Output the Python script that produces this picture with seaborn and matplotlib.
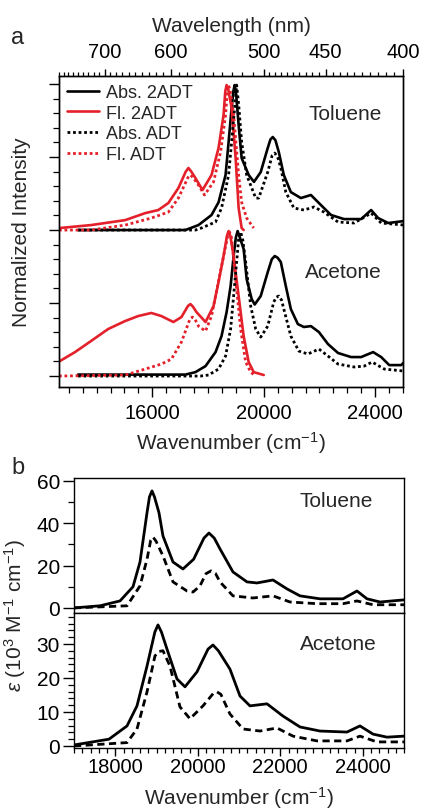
import matplotlib
matplotlib.use("Agg")
import matplotlib.pyplot as plt
from matplotlib.ticker import MultipleLocator, FixedLocator, NullFormatter
from matplotlib.lines import Line2D
import pandas as pd
import seaborn as sns

# ---------------- Panel a : normalized spectra (wavenumber cm-1, normalized intensity) -------------
# Toluene
tol_abs2_x = [13333, 17189, 17657, 18126, 18378, 18630, 18739, 18847, 18910, 18955, 19010, 19099, 19207,
              19459, 19650, 19892, 20144, 20240, 20324, 20420, 20541, 20721, 20973, 21333, 21694, 22054,
              22415, 22883, 23496, 23856, 24108, 24469, 25045]
tol_abs2_y = [0.0, 0.0, 0.034, 0.103, 0.19, 0.377, 0.603, 0.836, 0.95, 0.993, 0.93, 0.719, 0.493,
              0.377, 0.33, 0.397, 0.562, 0.62, 0.637, 0.615, 0.534, 0.377, 0.26, 0.219, 0.24, 0.171,
              0.103, 0.075, 0.075, 0.137, 0.082, 0.048, 0.062]
tol_absA_x = [13333, 17549, 17766, 18270, 18486, 18739, 18847, 18955, 19027, 19100, 19207, 19387, 19712,
              19820, 20144, 20300, 20396, 20500, 20613, 20793, 21081, 21442, 21802, 22162, 22667, 23244,
              23856, 24217, 25045]
tol_absA_y = [0.0, 0.0, 0.014, 0.055, 0.151, 0.377, 0.603, 0.836, 0.993, 0.86, 0.603, 0.377, 0.219,
              0.219, 0.397, 0.51, 0.527, 0.50, 0.425, 0.26, 0.151, 0.137, 0.158, 0.123, 0.055, 0.048,
              0.116, 0.048, 0.034]
tol_fl2_x = [12684, 13801, 15027, 15747, 16216, 16576, 16937, 17200, 17297, 17400, 17549, 17802, 18126,
             18378, 18558, 18620, 18667, 18730, 18847, 18991, 19099, 19207, 19279]
tol_fl2_y = [0.014, 0.034, 0.068, 0.116, 0.137, 0.185, 0.288, 0.40, 0.425, 0.40, 0.356, 0.274, 0.377,
             0.562, 0.788, 0.95, 0.993, 0.96, 0.836, 0.493, 0.151, 0.014, 0.0]
tol_flA_x = [12648, 13801, 15027, 15964, 16576, 16937, 17280, 17369, 17460, 17657, 17874, 18198, 18450,
             18630, 18690, 18739, 18800, 18919, 19099, 19207, 19387, 19640]
tol_flA_y = [0.0, 0.0, 0.034, 0.082, 0.123, 0.219, 0.36, 0.377, 0.36, 0.308, 0.24, 0.329, 0.534,
             0.788, 0.95, 0.993, 0.95, 0.788, 0.377, 0.19, 0.082, 0.014]
# Acetone
ace_abs2_x = [13333, 17189, 17549, 17910, 18270, 18486, 18667, 18811, 18919, 19000, 19063, 19140, 19279,
              19387, 19568, 19676, 19892, 20144, 20290, 20396, 20500, 20613, 20793, 20973, 21225, 21442,
              21694, 21982, 22307, 22667, 23135, 23496, 23928, 24217, 24505, 24937, 25045]
ace_abs2_y = [0.01, 0.01, 0.027, 0.068, 0.164, 0.274, 0.438, 0.616, 0.822, 0.95, 0.993, 0.95, 0.87,
              0.664, 0.527, 0.49, 0.548, 0.712, 0.80, 0.822, 0.81, 0.781, 0.616, 0.459, 0.356, 0.336,
              0.342, 0.301, 0.219, 0.158, 0.13, 0.13, 0.164, 0.13, 0.075, 0.075, 0.096]
ace_absA_x = [13333, 17730, 18018, 18378, 18630, 18811, 18919, 19027, 19100, 19171, 19250, 19351, 19532,
              19712, 19892, 20144, 20360, 20450, 20541, 20640, 20721, 20973, 21261, 21586, 21982, 22307,
              22667, 23244, 23604, 23892, 24325, 25045]
ace_absA_y = [0.0, 0.0, 0.007, 0.048, 0.137, 0.322, 0.548, 0.781, 0.94, 0.986, 0.93, 0.781, 0.479,
              0.322, 0.267, 0.342, 0.507, 0.54, 0.548, 0.52, 0.459, 0.274, 0.171, 0.151, 0.185, 0.137,
              0.082, 0.062, 0.068, 0.096, 0.048, 0.034]
ace_fl2_x = [12684, 13225, 13801, 14414, 15027, 15495, 15964, 16324, 16757, 17045, 17280, 17369, 17460,
             17586, 17910, 18198, 18378, 18558, 18680, 18739, 18800, 18919, 19099, 19279, 19459, 19640,
             20000]
ace_fl2_y = [0.103, 0.164, 0.24, 0.322, 0.377, 0.411, 0.432, 0.411, 0.37, 0.404, 0.48, 0.493, 0.475,
             0.438, 0.37, 0.479, 0.644, 0.822, 0.96, 0.993, 0.96, 0.822, 0.548, 0.274, 0.096, 0.027,
             0.007]
ace_flA_x = [12648, 15027, 15747, 16324, 16685, 17045, 17350, 17441, 17530, 17657, 17910, 18126, 18342,
             18558, 18710, 18775, 18840, 18991, 19171, 19351, 19532, 19712]
ace_flA_y = [0.0, 0.007, 0.048, 0.082, 0.116, 0.233, 0.39, 0.404, 0.39, 0.342, 0.308, 0.411, 0.616,
             0.822, 0.96, 0.986, 0.95, 0.664, 0.322, 0.096, 0.027, 0.0]

legend_labels = ["Abs. 2ADT", "Fl. 2ADT", "Abs. ADT", "Fl. ADT"]
solvents = ["Toluene", "Acetone"]
wavelength_major = [700, 600, 500, 450, 400]

# ---------------- Panel b : molar absorptivity (10^3 M-1 cm-1) -------------
b_tol_2_x = [17000, 17630, 18115, 18430, 18600, 18770, 18830, 18891, 18950, 19060, 19157, 19400, 19642,
             19900, 20150, 20272, 20400, 20539, 20854, 21194, 21436, 21824, 22163, 22478, 22963, 23521,
             23860, 24103, 24418, 25000]
b_tol_2_y = [0.0, 1.0, 3.3, 10.0, 21.7, 45.0, 52.5, 55.3, 52.5, 45.0, 34.0, 21.7, 18.4,
             23.0, 33.0, 35.4, 33.0, 27.9, 17.0, 12.3, 11.8, 13.2, 9.0, 5.7, 4.3, 4.3,
             8.0, 4.3, 2.8, 3.8]
b_tol_A_x = [17000, 18285, 18600, 18770, 18860, 18915, 18990, 19157, 19400, 19739, 19885, 20054, 20200,
             20321, 20430, 20539, 20854, 21339, 21824, 22236, 22890, 23521, 23860, 24248, 25000]
b_tol_A_y = [0.0, 1.0, 10.4, 23.0, 32.0, 33.5, 31.5, 24.6, 12.3, 8.0, 7.5, 10.4, 16.2,
             17.5, 16.3, 12.3, 5.7, 4.7, 5.7, 2.8, 2.0, 2.0, 3.3, 1.5, 1.5]
b_ace_2_x = [17000, 17848, 18285, 18527, 18770, 18960, 19036, 19120, 19254, 19497, 19691, 19982, 20250,
             20369, 20500, 20781, 21024, 21266, 21678, 22066, 22478, 22963, 23618, 23933, 24248, 24587,
             25000]
b_ace_2_y = [0.3, 2.0, 5.9, 11.8, 23.5, 33.5, 35.6, 33.5, 28.5, 19.7, 17.4, 21.8, 28.5,
             29.7, 28.0, 22.6, 14.7, 11.8, 12.4, 8.8, 5.6, 4.4, 4.1, 5.9, 3.5, 2.6, 2.9]
b_ace_A_x = [17000, 18285, 18527, 18770, 18963, 19060, 19157, 19327, 19569, 19812, 20127, 20380, 20466,
             20560, 20781, 21097, 21509, 21921, 22309, 22890, 23618, 23933, 24345, 25000]
b_ace_A_y = [0.0, 1.0, 5.0, 15.9, 26.5, 27.8, 28.0, 23.5, 11.5, 8.0, 11.8, 15.5, 15.9,
             15.2, 9.4, 5.0, 4.4, 5.3, 2.9, 1.5, 1.5, 2.9, 1.2, 1.2]

# ---------------- style -------------
sns.set_theme(style="ticks")
plt.rcParams['font.family'] = ['Liberation Sans', 'DejaVu Sans']
plt.rcParams['mathtext.fontset'] = 'custom'
plt.rcParams['mathtext.rm'] = 'Liberation Sans'
plt.rcParams['mathtext.it'] = 'Liberation Sans:italic'
plt.rcParams['axes.linewidth'] = 1.0
plt.rcParams['xtick.color'] = 'black'
plt.rcParams['ytick.color'] = 'black'
plt.rcParams['axes.edgecolor'] = 'black'

RED = "#e4202a"
BLK = "black"
DOT = (0, (1, 1))
DASH = (0, (2.6, 1.6))
FS = 15
TFS = 14.5

fig = plt.figure(figsize=(4.24, 8.12), dpi=100)

# ---------------- Panel a -------------
ax = fig.add_axes([59/424, 1-388/812, 344/424, 311/812])
offset = {"Toluene": 1.0, "Acetone": 0.0}
curves = {
    "Toluene": [(tol_abs2_x, tol_abs2_y, BLK, '-'), (tol_fl2_x, tol_fl2_y, RED, '-'),
                (tol_absA_x, tol_absA_y, BLK, DOT), (tol_flA_x, tol_flA_y, RED, DOT)],
    "Acetone": [(ace_abs2_x, ace_abs2_y, BLK, '-'), (ace_fl2_x, ace_fl2_y, RED, '-'),
                (ace_absA_x, ace_absA_y, BLK, DOT), (ace_flA_x, ace_flA_y, RED, DOT)],
}
for solv in solvents:
    for xs, ys, c, ls in curves[solv]:
        df = pd.DataFrame({"wn": xs, "I": [v + offset[solv] for v in ys]})
        sns.lineplot(data=df, x="wn", y="I", ax=ax, color=c, linestyle=ls, lw=1.9 if ls == '-' else 2.0,
                     estimator=None, sort=False, errorbar=None)

ax.set_xlim(12650, 25000)
ax.set_ylim(-0.075, 2.055)
ax.xaxis.set_major_locator(FixedLocator([16000, 20000, 24000]))
ax.xaxis.set_minor_locator(MultipleLocator(500))
ax.yaxis.set_major_locator(MultipleLocator(0.5))
ax.yaxis.set_minor_locator(MultipleLocator(0.1))
ax.yaxis.set_major_formatter(NullFormatter())
ax.tick_params(axis='both', which='major', direction='out', length=7, width=1.0, labelsize=TFS)
ax.tick_params(axis='both', which='minor', direction='out', length=4, width=0.9)
ax.tick_params(axis='x', pad=4.5)
ax.set_xlabel("Wavenumber (cm$^{-1}$)", fontsize=FS, labelpad=5)
ax.set_ylabel("")

handles = [Line2D([0], [0], color=BLK, lw=1.9), Line2D([0], [0], color=RED, lw=1.9),
           Line2D([0], [0], color=BLK, lw=2.0, ls=DOT), Line2D([0], [0], color=RED, lw=2.0, ls=DOT)]
ax.legend(handles, legend_labels, loc='upper left', frameon=False, fontsize=13, handlelength=1.77,
          handletextpad=0.39, labelspacing=0.2, borderpad=0.0, borderaxespad=0.45)

ax.text(0.939, 0.881, solvents[0], transform=ax.transAxes, ha='right', va='center', fontsize=FS)
ax.text(0.939, 0.370, solvents[1], transform=ax.transAxes, ha='right', va='center', fontsize=FS)

# top wavelength axis
axt = ax.twiny()
axt.set_xlim(ax.get_xlim())
axt.xaxis.set_major_locator(FixedLocator([1e7 / w for w in wavelength_major]))
axt.set_xticklabels([str(w) for w in wavelength_major])
minor_nm = list(range(790, 500, -10)) + list(range(495, 400, -5))
axt.xaxis.set_minor_locator(FixedLocator([1e7 / w for w in minor_nm if w not in wavelength_major]))
axt.tick_params(axis='x', which='major', direction='out', length=5, width=1.0, labelsize=TFS, pad=5.5)
axt.tick_params(axis='x', which='minor', direction='out', length=3, width=0.9)
axt.set_xlabel("Wavelength (nm)", fontsize=FS, labelpad=8)

fig.text(22/424, 1-232/812, "Normalized Intensity", rotation=90, ha='center', va='center', fontsize=FS)
fig.text(18/424, 1-38/812, "a", ha='center', va='center', fontsize=17)
fig.text(18/424, 1-468/812, "b", ha='center', va='center', fontsize=17)

# ---------------- Panel b -------------
ax1 = fig.add_axes([74/424, 1-614/812, 330/424, 135/812])
ax2 = fig.add_axes([74/424, 1-748.7/812, 330/424, 134.7/812])

for a_, (x2, y2, xA, yA), lab in [(ax1, (b_tol_2_x, b_tol_2_y, b_tol_A_x, b_tol_A_y), solvents[0]),
                                  (ax2, (b_ace_2_x, b_ace_2_y, b_ace_A_x, b_ace_A_y), solvents[1])]:
    sns.lineplot(x=x2, y=y2, ax=a_, color=BLK, lw=2.0, estimator=None, sort=False, errorbar=None)
    sns.lineplot(x=xA, y=yA, ax=a_, color=BLK, lw=2.0, linestyle=DASH, estimator=None, sort=False,
                 errorbar=None)
    a_.set_xlim(17000, 25000)
    a_.xaxis.set_major_locator(MultipleLocator(2000))
    a_.xaxis.set_minor_locator(MultipleLocator(200))
    a_.tick_params(axis='y', which='major', direction='out', length=8, width=1.0, labelsize=FS, pad=2)
    a_.tick_params(axis='y', which='minor', direction='out', length=4, width=0.9)
    a_.tick_params(axis='x', which='major', direction='out', length=6, width=1.0, labelsize=TFS, pad=0.5)
    a_.tick_params(axis='x', which='minor', direction='out', length=3.5, width=0.9)
    a_.set_xlabel("")
    a_.set_ylabel("")

ax1.set_ylim(-2.4, 61.4)
ax1.yaxis.set_major_locator(MultipleLocator(20))
ax1.yaxis.set_minor_locator(MultipleLocator(10))
ax1.tick_params(axis='x', which='both', bottom=False, labelbottom=False)
ax1.text(0.906, 0.83, solvents[0], transform=ax1.transAxes, ha='right', va='center', fontsize=FS)

ax2.set_ylim(-0.5, 39.1)
ax2.yaxis.set_major_locator(MultipleLocator(10))
ax2.yaxis.set_minor_locator(MultipleLocator(2))
ax2.set_xlabel("Wavenumber (cm$^{-1}$)", fontsize=FS, labelpad=6)
ax2.text(0.918, 0.77, solvents[1], transform=ax2.transAxes, ha='right', va='center', fontsize=FS)

fig.text(15/424, 1-615/812, r"$\varepsilon$ (10$^3$ M$^{-1}$ cm$^{-1}$)", rotation=90,
         ha='center', va='center', fontsize=FS)

fig.savefig("out.png", dpi=100)
